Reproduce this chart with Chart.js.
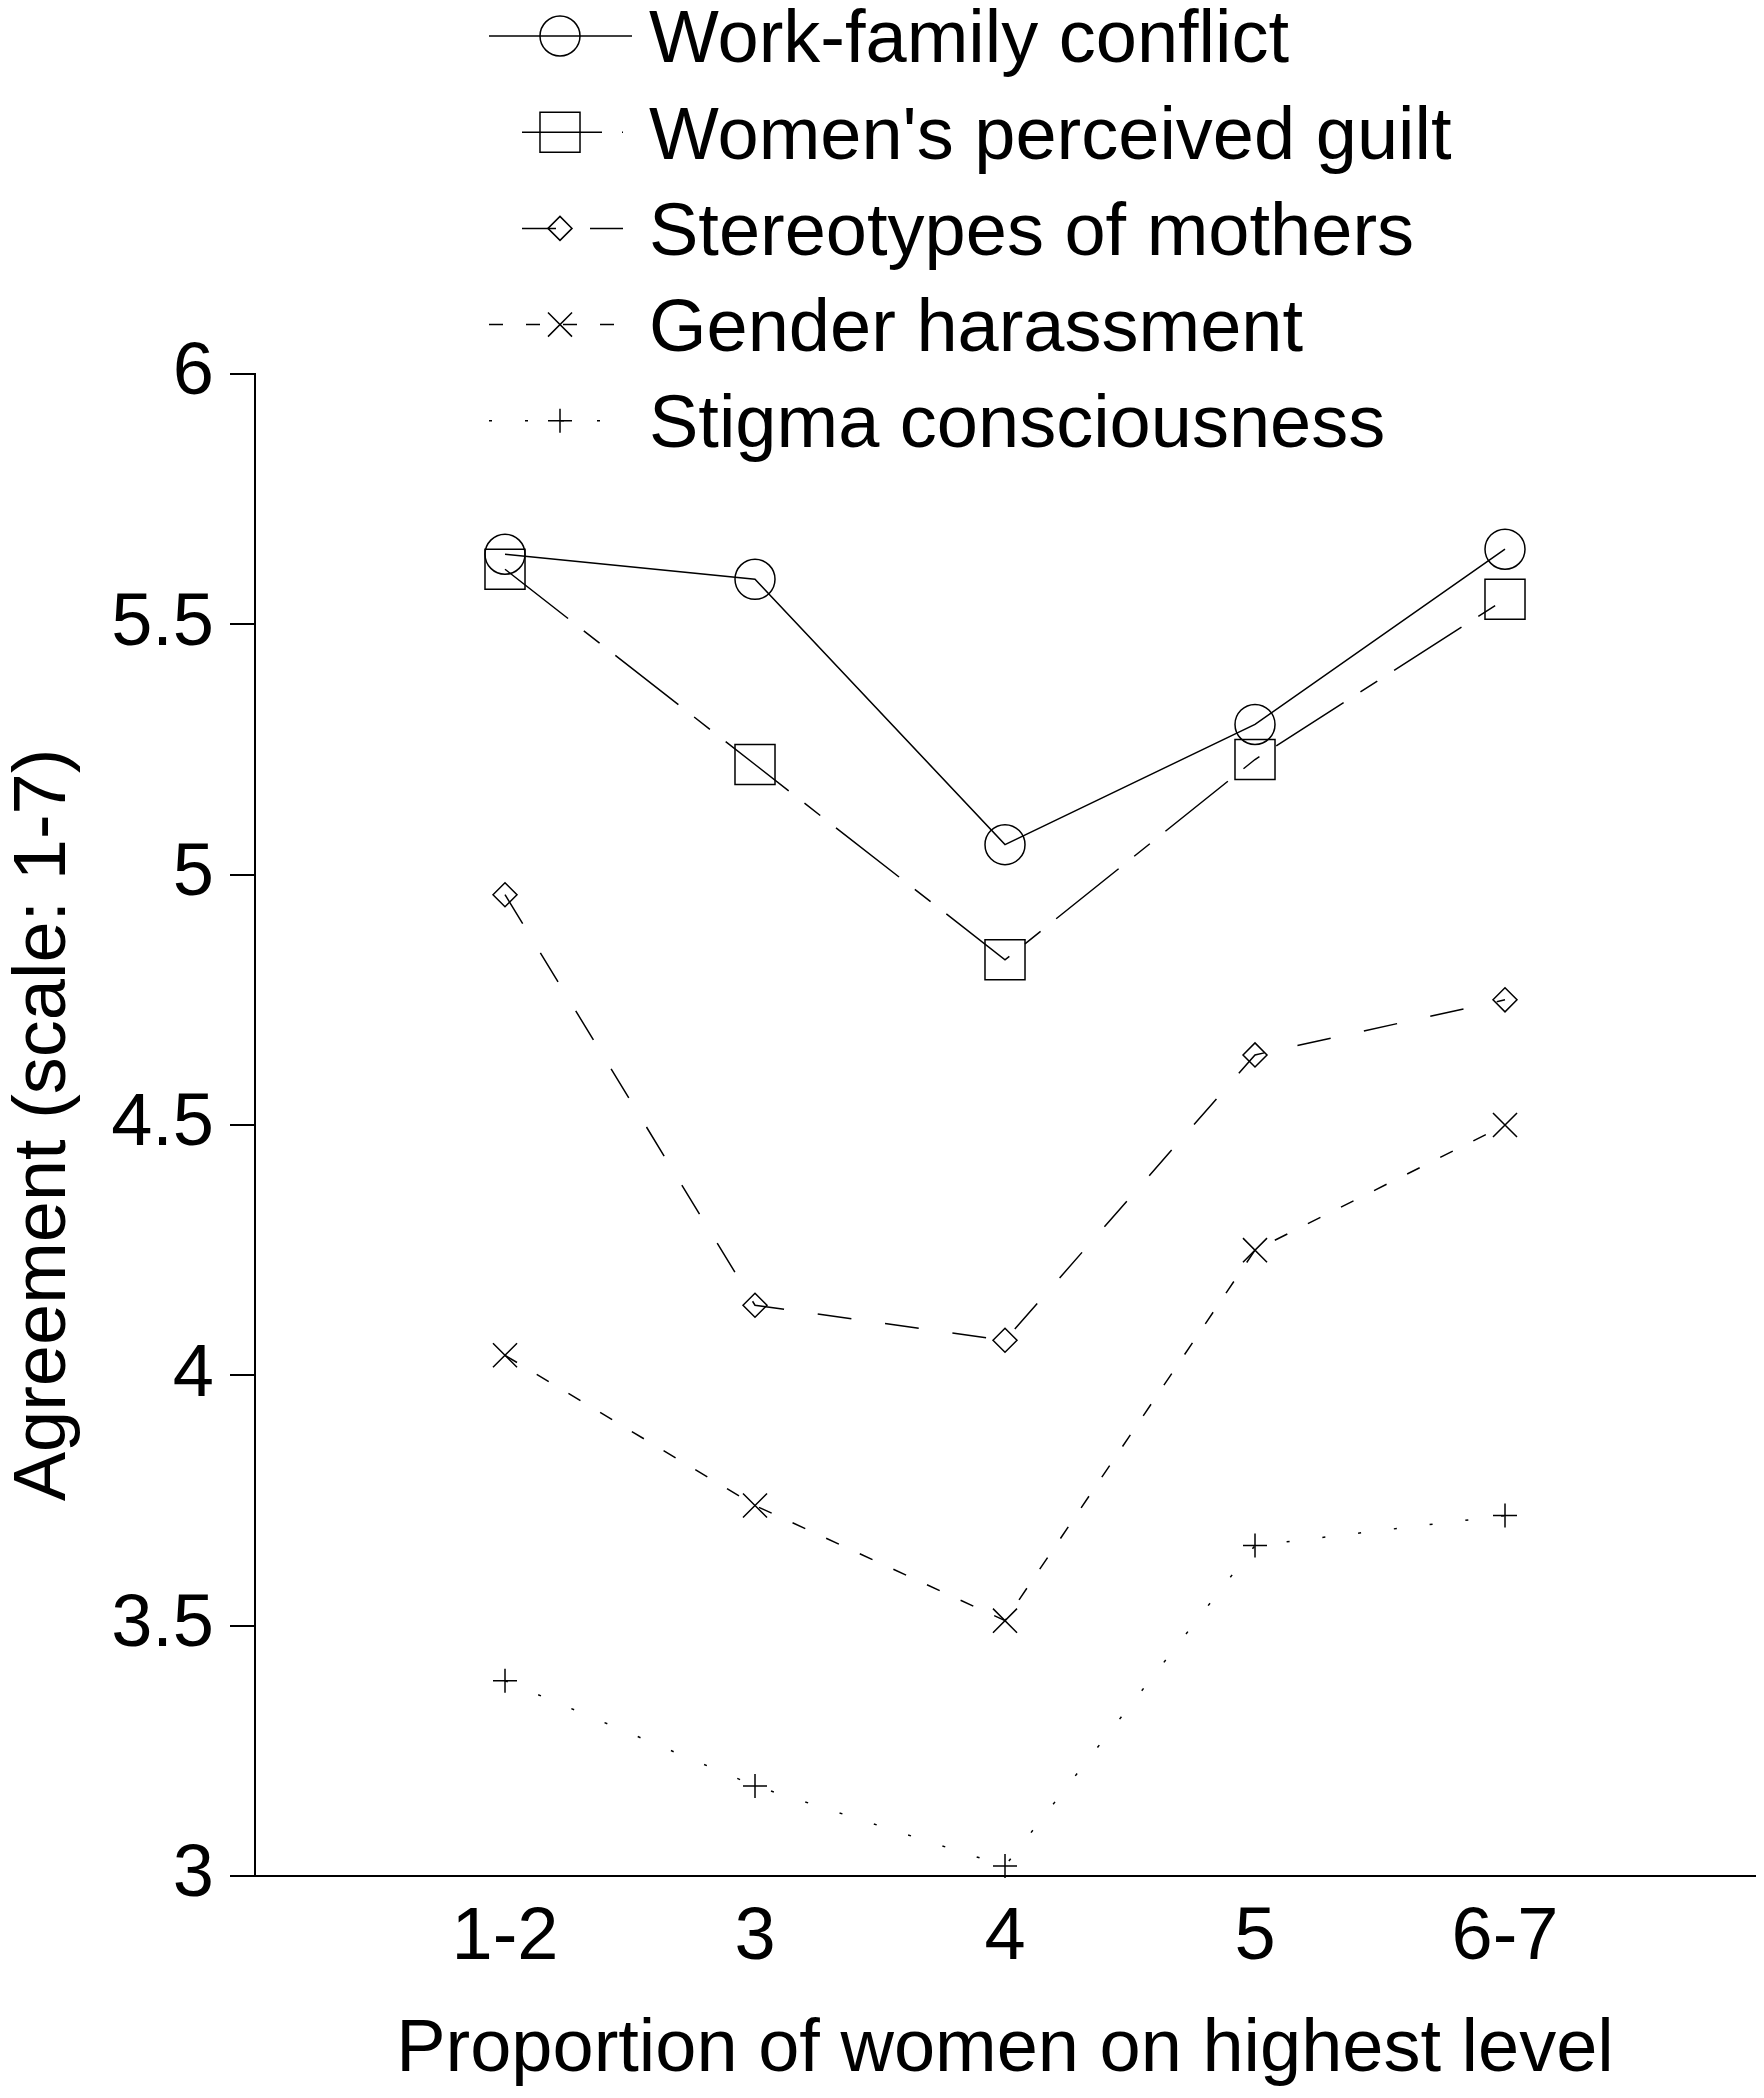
<!DOCTYPE html>
<html>
<head>
<meta charset="utf-8">
<script src="https://cdn.jsdelivr.net/npm/chart.js@4.4.1/dist/chart.umd.min.js"></script>
<style>
  html, body { margin: 0; padding: 0; background: #fff; overflow: hidden; }
  #wrap { width: 1764px; height: 2098px; position: relative; }
  #agreeChart { display: block; }
</style>
</head>
<body>
<div id="wrap"><canvas id="agreeChart"></canvas></div>
<script>
// ------------------------------
// Data
// ------------------------------

const categories = ["1-2", "3", "4", "5", "6-7"];

const workFamilyConflict = [5.64, 5.59, 5.06, 5.30, 5.65];
const perceivedGuilt     = [5.61, 5.22, 4.83, 5.23, 5.55];
const motherStereotypes  = [4.96, 4.14, 4.07, 4.64, 4.75];
const genderHarassment   = [4.04, 3.74, 3.51, 4.25, 4.50];
const stigmaConscious    = [3.39, 3.18, 3.02, 3.66, 3.72];

const yTicks = [3, 3.5, 4, 4.5, 5, 5.5, 6];

const FONT = "'Liberation Sans', Arial, sans-serif";

// x positions 1..5 on a 0..6 axis
function toPoints(values) {
    return values.map((v, i) => ({ x: i + 1, y: v }));
}

function series(label, values, style, radius, dash) {
    return {
        label: label,
        data: toPoints(values),
        borderColor: "#000",
        borderWidth: 1.5,
        borderDash: dash,
        fill: false,
        tension: 0,
        pointStyle: style,
        pointRadius: radius,
        pointBorderColor: "#000",
        pointBackgroundColor: "rgba(0,0,0,0)",
        pointBorderWidth: 1.5,
        clip: false
    };
}


// ------------------------------
// Legend drawn in the top area
// ------------------------------

// sample line start / end for each legend row
const legendLineFrom = [489, 522, 522, 489, 489];
const legendLineTo   = [632, 623, 623, 632, 629];

const lineLegend = {

    id: "lineLegend",

    afterDraw(chart) {

        const ctx = chart.ctx;

        chart.data.datasets.forEach((ds, i) => {

            const y = 36 + i * 96.2;

            ctx.save();
            ctx.strokeStyle = "#000";
            ctx.lineWidth = 1.5;
            ctx.setLineDash(ds.borderDash || []);
            ctx.beginPath();
            ctx.moveTo(legendLineFrom[i], y);
            ctx.lineTo(legendLineTo[i], y);
            ctx.stroke();

            ctx.setLineDash([]);
            ctx.fillStyle = "rgba(0,0,0,0)";
            Chart.helpers.drawPoint(ctx, {
                pointStyle: ds.pointStyle,
                radius: ds.pointRadius,
                rotation: 0,
                borderWidth: 1.5
            }, 560, y);

            ctx.fillStyle = "#000";
            ctx.font = "74px " + FONT;
            ctx.textBaseline = "middle";
            ctx.textAlign = "left";
            ctx.fillText(ds.label, 649, y + 6);
            ctx.restore();

        });

    }

};


// ------------------------------
// Chart
// ------------------------------

const agreeChart = new Chart(document.getElementById("agreeChart"), {

    type: "line",

    data: {

        datasets: [
            series("Work-family conflict", workFamilyConflict, "circle", 20, []),
            series("Women's perceived guilt", perceivedGuilt, "rect", 28.3, [80, 20, 20, 20]),
            series("Stereotypes of mothers", motherStereotypes, "rectRot", 12, [34, 34]),
            series("Gender harassment", genderHarassment, "crossRot", 17, [14, 23]),
            series("Stigma consciousness", stigmaConscious, "cross", 12, [3, 33])
        ]

    },

    options: {

        responsive: true,
        maintainAspectRatio: false,
        devicePixelRatio: 1,
        animation: false,
        events: [],

        layout: {
            autoPadding: false,
            padding: { top: 374, right: 9, bottom: 0, left: 0 }
        },

        plugins: {
            legend: { display: false },
            tooltip: { enabled: false }
        },

        scales: {

            x: {
                type: "linear",
                min: 0,
                max: 6,
                afterFit(scale) { scale.height = 222; },
                afterBuildTicks(scale) {
                    scale.ticks = categories.map((c, i) => ({ value: i + 1 }));
                },
                ticks: {
                    autoSkip: false,
                    maxRotation: 0,
                    padding: 18,
                    color: "#000",
                    font: { family: FONT, size: 74 },
                    callback: (v) => categories[v - 1]
                },
                grid: { display: false, drawTicks: false },
                border: { display: true, color: "#000", width: 2 },
                title: {
                    display: true,
                    text: "Proportion of women on highest level",
                    color: "#000",
                    font: { family: FONT, size: 74 },
                    padding: { top: 0, bottom: 3 }
                }
            },

            y: {
                min: 3,
                max: 6,
                afterFit(scale) { scale.width = 255; },
                afterBuildTicks(scale) {
                    scale.ticks = yTicks.map((v) => ({ value: v }));
                },
                ticks: {
                    padding: 16,
                    color: "#000",
                    font: { family: FONT, size: 74 },
                    callback: (v) => String(v)
                },
                grid: {
                    drawOnChartArea: false,
                    drawTicks: true,
                    tickLength: 25,
                    color: "#000",
                    lineWidth: 2
                },
                border: { display: true, color: "#000", width: 2 },
                title: {
                    display: true,
                    text: "Agreement (scale: 1-7)",
                    color: "#000",
                    font: { family: FONT, size: 74 },
                    padding: { top: 0, bottom: 0 }
                }
            }

        }

    },

    plugins: [lineLegend]

});
</script>
</body>
</html>
